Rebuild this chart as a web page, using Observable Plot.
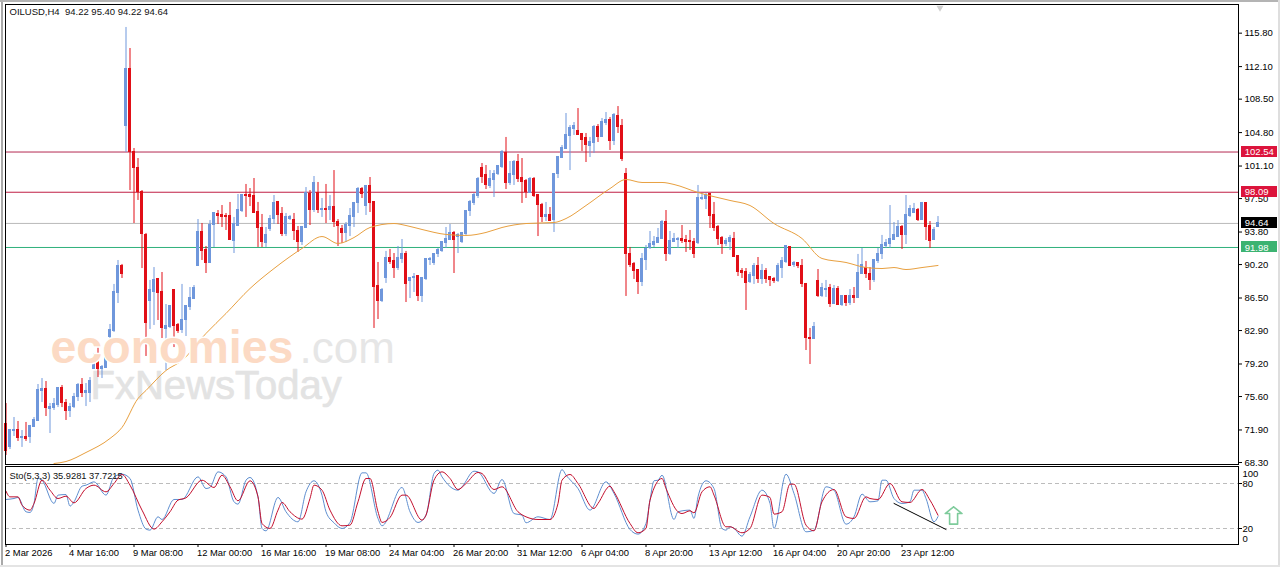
<!DOCTYPE html>
<html><head><meta charset="utf-8">
<script src="https://cdn.jsdelivr.net/npm/d3@7"></script>
<script src="https://cdn.jsdelivr.net/npm/@observablehq/plot@0.6"></script>
<style>
html,body{margin:0;padding:0;background:#fff;}
#chart{position:relative;width:1280px;height:567px;overflow:hidden;background:#fff;}
#chart svg{position:absolute;left:0;display:block;}
.edge{position:absolute;}
</style></head><body><div id="chart"></div>
<script>
const opens=[72.40,69.86,71.73,71.84,70.85,70.96,70.96,72.07,72.73,76.05,
76.27,74.16,74.27,74.50,76.38,74.72,73.84,74.38,75.49,76.82,
75.83,75.83,78.59,79.37,78.59,78.70,82.13,82.69,86.89,89.88,
105.47,111.67,102.49,100.72,98.17,93.31,86.11,87.00,88.44,87.00,
82.91,83.13,87.33,83.35,82.80,84.01,85.34,86.33,89.88,93.64,
91.65,90.21,94.52,95.63,95.52,95.41,95.41,92.75,94.41,96.07,
97.73,97.73,97.62,95.85,94.08,92.42,93.97,95.18,96.96,95.63,
93.42,95.18,95.07,93.75,92.64,94.08,97.95,96.18,98.06,96.18,
96.29,96.18,96.51,94.85,93.97,93.53,94.41,95.30,96.85,98.50,
96.62,98.73,96.96,87.77,86.11,88.55,90.76,90.43,89.76,90.65,
91.31,88.22,88.55,88.77,86.56,88.44,90.54,90.21,91.21,91.54,
92.42,92.86,93.53,93.19,92.53,93.42,95.96,96.85,97.62,100.72,
100.05,98.73,99.39,100.16,100.83,102.38,99.06,100.05,101.49,99.72,
99.28,98.06,99.61,97.84,96.73,95.30,95.52,95.07,100.16,101.93,
102.82,104.26,105.14,104.81,104.48,104.04,103.26,103.59,105.36,104.15,
105.80,106.03,103.81,106.58,105.47,100.16,91.31,90.10,89.54,88.11,
90.54,91.87,92.20,92.42,92.97,94.85,91.21,92.64,92.86,92.97,
92.86,92.75,92.64,92.42,97.29,97.29,97.95,95.52,94.19,93.08,
92.31,92.64,92.97,91.09,89.43,89.32,88.11,88.77,89.88,88.44,
89.43,88.66,88.44,88.22,89.76,90.32,91.98,89.99,90.21,89.88,
87.89,81.91,81.80,88.22,86.56,87.33,87.55,85.78,87.44,85.67,
86.56,85.89,86.56,86.44,89.10,89.76,89.10,88.33,90.43,91.21,
92.09,92.31,92.86,93.19,94.30,93.31,95.41,95.74,96.18,95.07,
96.85,94.41,92.86,94.22];
const highs=[74.72,71.84,73.17,72.73,71.73,72.62,72.29,73.17,76.82,77.48,
77.15,74.72,75.27,76.49,76.71,75.16,74.72,75.83,76.93,77.48,
76.93,77.59,80.25,81.03,78.92,79.81,83.46,87.89,90.54,90.10,
116.32,113.99,102.93,101.82,98.28,93.53,88.33,89.76,88.55,89.21,
85.67,85.45,87.33,83.57,87.89,85.45,87.55,87.77,95.07,94.63,
92.09,94.96,95.85,96.07,96.62,95.74,96.96,95.30,97.84,97.84,
98.95,98.50,99.61,96.96,95.63,94.19,95.52,97.73,97.07,96.40,
95.74,95.52,95.74,94.30,94.19,98.61,98.28,99.83,99.17,97.40,
98.95,97.73,100.49,95.07,94.41,94.74,96.29,96.96,98.61,98.61,
98.84,99.72,96.96,90.32,87.44,91.54,91.76,91.31,92.09,92.86,
91.54,88.66,89.10,88.77,88.66,90.76,90.87,91.31,91.87,92.53,
94.19,94.52,93.75,93.53,93.64,96.07,97.18,97.95,99.72,101.27,
101.05,100.49,100.49,101.05,102.71,104.15,101.49,101.60,102.27,101.82,
99.50,99.72,99.72,97.84,96.85,96.96,96.40,100.16,102.04,103.26,
106.80,105.47,105.80,107.35,104.59,104.59,104.15,105.47,105.58,106.25,
106.91,106.36,106.80,107.57,106.14,100.72,91.98,90.32,89.54,91.31,
92.20,93.75,93.19,94.08,94.96,96.07,93.75,93.53,93.08,94.41,
93.31,93.86,92.97,98.84,97.95,97.95,97.95,96.96,94.41,93.19,
92.97,93.31,93.64,91.09,89.65,89.65,89.21,90.21,90.87,90.10,
89.65,88.66,88.66,90.21,90.87,92.09,91.98,90.43,90.32,90.65,
88.00,83.02,83.68,89.54,88.00,88.33,87.89,87.77,87.66,86.56,
86.67,87.33,87.55,91.21,91.87,90.43,89.76,90.65,91.87,93.31,
92.86,96.62,94.74,94.96,94.41,97.73,96.62,96.85,96.29,96.96,
96.85,94.85,94.19,95.40];
const lows=[68.97,69.63,71.07,70.52,69.86,70.52,70.30,72.07,72.73,74.83,
73.28,71.40,73.95,74.27,74.27,72.84,73.17,74.16,74.94,75.38,
74.38,74.83,78.59,77.59,77.48,78.70,79.26,82.58,85.78,88.55,
102.49,98.28,94.63,97.18,89.65,79.92,82.91,83.35,83.90,81.91,
78.37,83.02,80.91,82.47,82.47,82.13,85.01,86.22,89.88,90.54,
89.10,90.21,91.98,94.52,94.19,93.86,92.75,91.31,94.30,95.85,
95.30,96.51,95.74,91.98,91.98,91.98,93.75,94.52,94.52,93.19,
93.19,94.96,92.75,91.43,92.20,94.08,94.41,95.85,95.74,95.30,
94.63,94.96,94.19,92.09,92.42,92.53,93.19,94.19,95.74,97.40,
95.52,95.85,83.02,84.01,85.89,88.00,90.10,88.55,89.43,90.21,
85.89,86.33,87.00,86.00,85.89,88.33,89.99,89.99,90.87,91.43,
91.87,92.75,89.10,91.31,92.42,93.31,95.41,96.62,97.40,99.06,
98.39,98.50,97.51,99.94,100.72,98.39,98.84,98.84,99.17,96.85,
97.40,97.95,97.51,93.19,94.74,94.85,94.85,93.64,99.61,101.82,
102.82,100.49,104.37,104.37,102.60,101.38,101.93,102.38,103.59,104.15,
105.47,102.71,103.26,104.59,101.49,86.56,89.76,88.44,86.78,87.66,
89.43,91.76,91.98,92.42,92.97,90.43,91.10,92.53,91.87,92.42,
91.43,91.65,90.76,92.31,97.18,96.18,94.08,93.75,92.20,91.21,
92.09,91.65,90.98,88.77,88.55,85.01,88.00,87.89,88.00,87.89,
88.00,87.66,88.00,88.11,88.55,90.21,89.88,89.76,89.65,87.55,
80.58,79.03,81.80,86.45,86.45,86.45,85.34,85.78,85.56,85.45,
85.45,85.56,85.78,86.44,89.10,88.55,87.22,88.11,90.21,90.65,
91.87,91.87,92.86,93.08,91.76,92.31,95.30,95.74,94.85,94.96,
92.75,91.87,92.75,94.22];
const closes=[69.41,71.84,71.84,70.85,70.96,70.74,72.18,72.84,76.16,76.27,
74.27,74.38,74.61,76.38,74.72,73.84,74.38,75.49,76.82,75.83,
76.05,77.26,79.37,78.59,78.81,79.70,82.80,87.00,89.88,89.10,
111.67,102.49,100.72,98.17,93.42,83.57,87.33,88.33,86.89,83.02,
83.24,85.45,83.24,82.69,84.01,85.45,86.44,87.55,93.64,91.54,
90.21,94.52,95.74,95.41,95.30,95.30,92.86,94.63,96.18,97.84,
97.62,97.51,95.74,94.08,92.53,93.31,95.18,96.85,95.52,93.42,
95.30,95.30,93.75,92.64,94.19,98.06,96.18,99.06,96.18,96.29,
96.18,96.51,94.85,94.41,93.53,94.52,95.41,96.85,98.50,97.95,
98.73,96.85,87.66,86.11,87.33,90.76,90.32,89.76,90.76,91.31,
87.89,88.55,88.66,86.56,88.55,90.65,90.65,91.31,91.65,92.53,
92.97,93.53,92.86,93.31,93.53,96.07,96.96,97.73,99.61,99.83,
98.84,99.50,100.16,100.94,102.49,99.06,100.16,101.49,99.61,99.17,
98.17,99.61,97.62,96.73,95.30,95.52,94.96,100.16,102.04,102.93,
104.37,105.25,105.47,104.37,103.92,103.37,103.70,105.36,104.15,105.91,
106.03,103.81,106.69,105.36,101.82,91.31,89.99,89.43,88.11,90.65,
91.76,92.31,92.53,93.08,94.85,91.31,92.75,92.97,92.97,92.75,
92.53,92.53,91.31,97.40,97.40,97.84,95.41,94.08,92.97,92.31,
92.75,93.08,90.98,89.32,89.21,88.00,88.88,89.88,88.44,89.43,
88.44,88.33,88.22,89.88,90.43,92.09,89.88,90.21,89.88,87.89,
81.91,81.80,83.13,86.56,87.55,87.44,85.78,87.44,85.67,86.56,
85.89,86.56,86.44,89.21,89.99,89.00,88.33,90.54,91.31,92.20,
92.42,92.97,93.31,94.30,93.31,95.52,96.29,96.29,95.07,96.85,
94.30,92.75,93.86,94.64];

const maBars=[12,15,20,26,29,33,35,40,44,50,55,61,67,74,79,83,87,91,97,100,104,110,115,120,124,130,137,140,145,151,155,159,164,167,173,181,186,192,199,204,210,215,219,222,225,229,233];
const maValues=[68.08,68.30,69.30,70.85,72.07,75.27,76.16,78.37,79.48,82.47,84.68,87.44,89.65,91.87,93.19,92.42,93.08,94.19,94.63,94.41,93.97,93.42,93.31,93.64,94.19,94.63,94.74,95.18,96.62,98.50,99.50,99.17,99.17,98.95,98.06,97.18,96.62,94.63,92.97,90.76,90.32,89.76,89.65,89.76,89.54,89.76,89.99];

const kBars=[0,2,3,5,6,7,8,9,12,13,15,16,17,19,20,22,25,27,29,31,33,35,36,38,39,42,44,48,50,51,53,55,57,58,60,61,63,64,65,68,70,73,75,77,79,80,82,84,86,89,90,93,94,99,101,103,105,107,108,109,113,114,117,118,122,124,127,129,130,133,136,139,140,143,146,150,152,156,158,160,161,162,163,164,167,168,171,172,173,175,177,179,180,181,182,184,186,189,191,192,195,197,200,202,205,207,210,212,214,216,218,219,220,222,224,226,227,229,230,232,233];
const kValues=[58.7,60.0,61.4,42.3,41.4,53.4,86.7,84.4,53.4,64.5,65.3,49.8,55.6,76.4,77.8,82.2,64.5,88.9,92.4,86.7,44.5,19.2,17.8,35.6,32.0,58.7,58.7,88.9,73.3,74.7,95.5,88.9,55.6,52.5,84.4,88.0,62.2,20.1,16.9,61.4,42.3,28.9,68.9,83.6,64.5,42.3,27.6,20.1,28.1,94.2,94.2,33.4,23.6,74.7,42.3,28.1,37.8,93.3,97.8,88.9,71.1,75.6,96.4,95.5,66.7,85.3,40.0,37.8,27.6,35.6,32.0,98.6,91.1,73.3,44.5,82.2,66.7,18.7,12.5,26.7,57.8,83.6,84.4,91.1,32.0,42.3,44.5,33.4,62.2,83.6,73.3,20.1,17.8,22.3,20.1,9.8,35.6,71.1,53.4,20.1,92.4,66.7,15.6,17.8,75.6,71.1,25.8,35.6,65.8,55.6,56.9,84.4,84.4,60.0,53.4,55.6,71.1,71.1,60.0,28.9,35.9];
const dBars=[0,1,3,4,6,7,9,11,13,15,17,20,22,25,27,29,31,34,37,39,41,43,45,49,52,54,56,58,61,63,64,66,68,69,71,74,76,77,79,81,84,86,88,90,91,93,94,96,99,100,104,105,107,109,111,113,115,118,119,122,124,128,130,133,136,138,139,141,143,147,148,151,152,156,158,160,161,164,165,168,169,171,172,174,176,177,180,181,184,186,189,191,192,194,196,197,200,202,204,207,210,212,215,216,218,221,224,226,229,231,233];
const dValues=[69.8,62.2,62.2,51.1,44.5,53.4,84.4,71.1,60.0,63.1,54.2,73.3,77.8,68.9,80.0,92.0,77.8,44.5,19.2,28.9,42.3,57.8,60.9,84.4,74.7,91.1,75.6,56.9,83.6,62.2,26.7,20.1,44.5,54.7,42.3,32.5,60.0,77.8,71.1,44.5,23.6,24.5,55.6,86.7,86.7,42.3,28.1,34.7,64.5,64.5,31.2,37.8,84.4,95.5,86.7,72.0,80.0,94.7,93.3,72.0,75.6,42.3,35.6,32.0,32.0,53.4,84.4,92.0,80.0,46.7,53.4,76.4,68.9,26.7,14.3,20.1,57.8,86.7,73.3,42.3,40.0,43.6,40.9,68.9,75.6,64.5,22.3,22.3,14.3,20.1,64.5,61.4,39.2,42.3,79.1,79.1,24.5,16.9,55.6,72.0,35.6,33.4,62.2,60.0,58.7,80.0,55.6,54.7,72.0,57.8,37.7];

const levelPrices=[102.54,98.09,94.64,91.98];
const levelColors=["#b42a52","#c01f45","#b9b9b9","#2fb07c"];
const tagColors=["#dc143c","#dc143c","#000000","#3cb371"];
const priceTicks=[115.80,112.10,108.50,104.80,101.10,97.50,93.80,90.20,86.50,82.90,79.20,75.60,71.90,68.30];
const timeTicks=d3.range(0,225,16);
const timeLabels=["2 Mar 2026","4 Mar 16:00","9 Mar 08:00","12 Mar 00:00","16 Mar 16:00","19 Mar 08:00","24 Mar 04:00","26 Mar 20:00","31 Mar 12:00","6 Apr 04:00","8 Apr 20:00","13 Apr 12:00","16 Apr 04:00","20 Apr 20:00","23 Apr 12:00"];
const trendBars=[222,235], trendValues=[53.4,18.7];
const arrowBars=[236.9,239,237.9,237.9,235.9,235.9,234.8,236.9];
const arrowValues=[48.9,40,40,25.8,25.8,40,40,48.9];

const FONT='"Liberation Sans", Arial, sans-serif';
const BLUE="#6f97dc", RED="#e10f17";
const xScale={type:"linear",domain:[0,308.125],range:[5.5,1238]};
const candles=opens.map((o,i)=>({i,o,h:highs[i],l:lows[i],c:closes[i],col:closes[i]>=o?BLUE:RED}));
const levels=levelPrices.map((p,k)=>({p,line:levelColors[k],tag:tagColors[k]}));

const main=Plot.plot({
  width:1280,height:470,marginLeft:5,marginRight:42,marginTop:4,marginBottom:6,
  style:{fontFamily:FONT,fontSize:"9.5px",background:"transparent",color:"#000"},
  x:{...xScale,axis:null},
  y:{type:"linear",domain:[67.97,118.86],axis:null},
  marks:[
    Plot.text(["FxNewsToday"],{frameAnchor:"top-left",dx:85,dy:366,textAnchor:"start",lineAnchor:"top",fontSize:40,fontFamily:FONT,fill:"#e3e3e3",stroke:"#e3e3e3",strokeWidth:0.7}),
    Plot.ruleY(levels,{y:"p",stroke:"line",strokeWidth:1}),
    Plot.ruleX(candles,{x:"i",y1:"l",y2:"h",stroke:"col",strokeWidth:1}),
    Plot.rect(candles,{x1:d=>d.i-0.375,x2:d=>d.i+0.375,y1:"o",y2:"c",fill:"col",insetTop:-0.5,insetBottom:-0.5,shapeRendering:"crispEdges"}),
    Plot.line(maBars.map((b,k)=>({b,v:maValues[k]})),{x:"b",y:"v",stroke:"#e8a040",strokeWidth:1,curve:"monotone-x"}),
    Plot.text(["economies"],{frameAnchor:"top-left",dx:45,dy:325,textAnchor:"start",lineAnchor:"top",fontSize:46.5,fontWeight:"bold",fontFamily:FONT,fill:"#fcdac4",stroke:"#fff",strokeWidth:3}),
    Plot.text([".com"],{frameAnchor:"top-left",dx:294,dy:327,textAnchor:"start",lineAnchor:"top",fontSize:44,fontFamily:FONT,fill:"#e6e6e6"}),
    Plot.axisY({anchor:"right",ticks:priceTicks,tickFormat:d=>d.toFixed(2),tickSize:3,tickPadding:3,label:null,dy:1,fontSize:9.5}),
    Plot.rect(levels,{x1:()=>308.75,x2:()=>317.75,y1:"p",y2:"p",fill:"tag",insetTop:-5.5,insetBottom:-5.5,shapeRendering:"crispEdges"}),
    Plot.text(levels,{x:()=>309.7,y:"p",text:d=>d.p.toFixed(2),textAnchor:"start",fill:"#fff",fontSize:9.5}),
    Plot.dot([{b:233.5,v:118.5}],{x:"b",y:"v",symbol:"triangle",rotate:180,r:2.6,fill:"#cfcfcf"}),
    Plot.text(["OILUSD,H4\u00A0\u00A094.22 95.40 94.22 94.64"],{frameAnchor:"top-left",dx:4,dy:4,textAnchor:"start",lineAnchor:"top",fontSize:9.5,fill:"#111"}),
    Plot.frame({stroke:"#000",strokeWidth:1})
  ]
});
main.style.top="0px";

const sub=Plot.plot({
  width:1280,height:102,marginLeft:5,marginRight:42,marginTop:1,marginBottom:23,
  style:{fontFamily:FONT,fontSize:"9.4px",background:"transparent",color:"#000"},
  x:{...xScale,axis:null},
  y:{type:"linear",domain:[-1.33,102.67],axis:null},
  marks:[
    Plot.ruleY([80,20],{stroke:"#bcbcbc",strokeDasharray:"4 3"}),
    Plot.line(kBars.map((b,k)=>({b,v:kValues[k]})),{x:"b",y:"v",stroke:"#5f8fd0",strokeWidth:1,curve:"monotone-x"}),
    Plot.line(dBars.map((b,k)=>({b,v:dValues[k]})),{x:"b",y:"v",stroke:"#c3102e",strokeWidth:1,curve:"monotone-x"}),
    Plot.line(trendBars.map((b,k)=>({b,v:trendValues[k]})),{x:"b",y:"v",stroke:"#000",strokeWidth:1}),
    Plot.line(arrowBars.map((b,k)=>({b,v:arrowValues[k]})),{x:"b",y:"v",stroke:"#7ecb9b",strokeWidth:1.6,fill:"#fff"}),
    Plot.text(["Sto(5,3,3) 35.9281 37.7215"],{frameAnchor:"top-left",dx:4,dy:6,textAnchor:"start",lineAnchor:"top",fontSize:9.3,fill:"#111"}),
    Plot.axisX({anchor:"bottom",ticks:timeTicks,tickFormat:()=>"",tickSize:3,label:null}),
    Plot.axisX({anchor:"bottom",ticks:timeTicks,tickFormat:d=>timeLabels[d/16],tickSize:0,tickPadding:5,textAnchor:"start",label:null,dx:-1,fontSize:9.4}),
    Plot.axisY({anchor:"right",ticks:[80,20],tickFormat:()=>"",tickSize:3,label:null}),
    Plot.text([100],{x:()=>309.1,y:d=>d,text:d=>String(d),textAnchor:"start",dy:5,fontSize:9.5}),
    Plot.text([80,20],{x:()=>309.1,y:d=>d,text:d=>String(d),textAnchor:"start",fontSize:9.5}),
    Plot.text([0],{x:()=>309.1,y:d=>d,text:d=>String(d),textAnchor:"start",dy:-5,fontSize:9.5}),
    Plot.frame({stroke:"#000",strokeWidth:1})
  ]
});
sub.style.top="465px";

const root=document.getElementById("chart");
root.append(main,sub);
[["left:1px;top:0;width:2px;height:567px;background:#a9a9a9"],["left:0;top:0;width:1280px;height:2px;background:#b4b4b4"],["left:1278px;top:0;width:2px;height:567px;background:#dedede"],["left:0;top:565px;width:1280px;height:2px;background:#e4e4e4"]].forEach(([s])=>{const d=document.createElement("div");d.className="edge";d.style.cssText=s;root.append(d);});
</script></body></html>
